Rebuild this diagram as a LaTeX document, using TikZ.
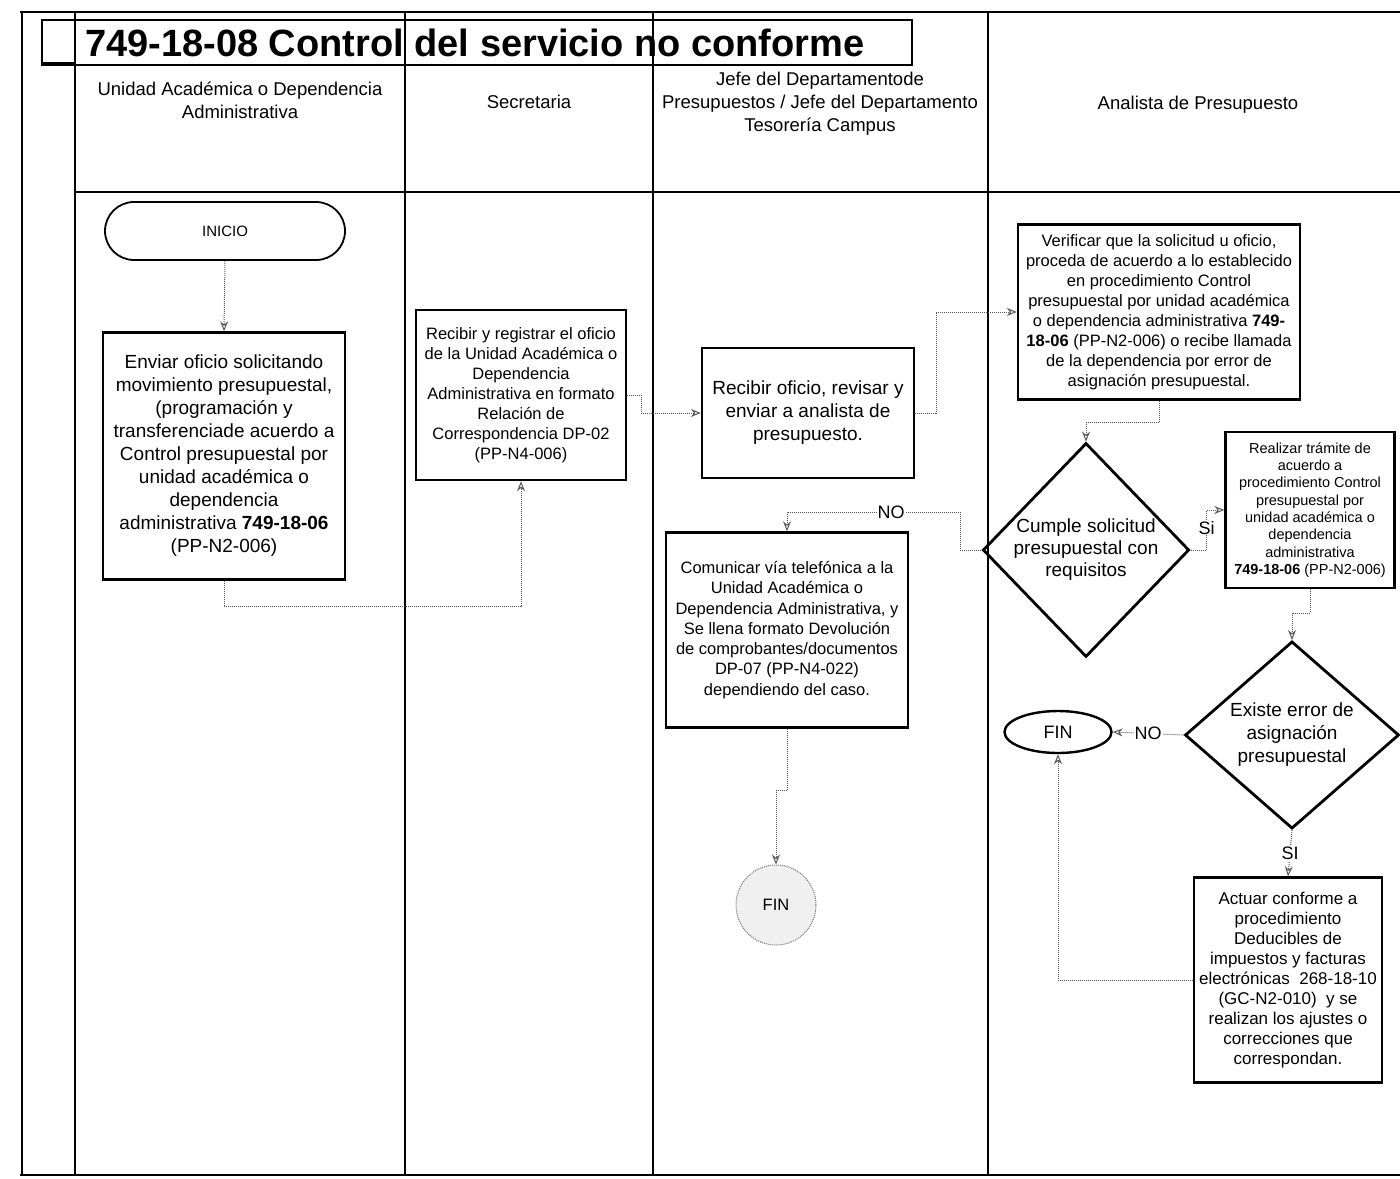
\documentclass[tikz,border=0pt]{standalone}
\usepackage{fontspec}
\setmainfont{Liberation Sans}
\usetikzlibrary{arrows.meta,shapes.geometric}
\newcommand\myfs[2]{\fontsize{#1}{#2}\selectfont}
\begin{document}
\begin{tikzpicture}[x=1pt,y=-1pt,
  lane/.style={line width=2.6pt, black},
  hline/.style={line width=1.8pt, black},
  box/.style={draw, line width=2.4pt, align=center, inner sep=0pt},
  dec/.style={draw, diamond, line width=2.8pt, align=center, inner sep=0pt},
  hdr/.style={align=center, font={\myfs{18.5}{23}}},
  conn/.style={draw=black!65, line width=1pt, densely dotted, -{Stealth[open,length=10pt,width=8pt]}},
  lbl/.style={fill=white, inner sep=1pt, font={\myfs{18}{20}}}
]
\useasboundingbox (0,0) rectangle (1400,1178);
% frame and lanes
\draw[hline] (20,12) -- (1400,12);
\draw[hline] (20,1175) -- (1400,1175);
\draw[lane] (22,12) -- (22,1175);
\draw[lane] (75,12) -- (75,1175);
\draw[lane] (405,12) -- (405,1175);
\draw[lane] (653,12) -- (653,1175);
\draw[lane] (988,12) -- (988,1175);
\draw[hline] (75,192) -- (1400,192);
% title
\draw[line width=2pt] (42,20) rectangle (912,65);
\draw[line width=2pt] (42,20) rectangle (75,63);
\node[font={\bfseries\myfs{38}{40}}, anchor=west, inner sep=0pt] (title) at (85,43) {749-18-08 Control del servicio no conforme};
% headers
\node[hdr] (h1) at (240,100) {Unidad Académica o Dependencia\\Administrativa};
\node[hdr] (h2) at (529,102) {Secretaria};
\node[hdr] (h3) at (820,104) {Jefe del Departamentode\\Presupuestos / Jefe del Departamento\\Tesorería Campus};
\node[hdr] (h4) at (1198,105) {Analista de Presupuesto};
% nodes
\node[draw, line width=1.8pt, rounded corners=29pt, minimum width=240, minimum height=58, font={\myfs{15}{18}}] (ini) at (225,231) {INICIO};
\node[box, minimum width=242, minimum height=247, font={\myfs{19}{23}}] (b1) at (224,456) {Enviar oficio solicitando\\movimiento presupuestal,\\(programación y\\transferenciade acuerdo a\\Control presupuestal por\\unidad académica o\\dependencia\\administrativa \textbf{749-18-06}\\(PP-N2-006)};
\node[box, minimum width=210, minimum height=170, font={\myfs{16.5}{20}}] (b2) at (521,395) {Recibir y registrar el oficio\\de la Unidad Académica o\\Dependencia\\Administrativa en formato\\Relación de\\Correspondencia DP-02\\(PP-N4-006)};
\node[box, minimum width=212, minimum height=130, font={\myfs{19}{23}}] (b3) at (808,413) {Recibir oficio, revisar y\\enviar a analista de\\presupuesto.};
\node[box, minimum width=282, minimum height=175, font={\myfs{16.5}{20}}] (b4) at (1159,312) {Verificar que la solicitud u oficio,\\proceda de acuerdo a lo establecido\\en procedimiento Control\\presupuestal por unidad académica\\o dependencia administrativa \textbf{749-}\\\textbf{18-06} (PP-N2-006) o recibe llamada\\de la dependencia por error de\\asignación presupuestal.};
\node[dec, minimum width=187, minimum height=214, font={\myfs{19}{22}}] (d1) at (1086,550) {Cumple solicitud\\presupuestal con\\requisitos};
\node[box, minimum width=169, minimum height=156, font={\myfs{14.5}{17.3}}] (b5) at (1310,510) {Realizar trámite de\\acuerdo a\\procedimiento Control\\presupuestal por\\unidad académica o\\dependencia\\administrativa\\\textbf{749-18-06} (PP-N2-006)};
\node[dec, minimum width=214, minimum height=174, font={\myfs{19}{23}}] (d2) at (1292,735) {Existe error de\\asignación\\presupuestal};
\node[draw, ellipse, line width=2.4pt, minimum width=107, minimum height=42, inner sep=0pt, font={\myfs{18}{20}}] (fin1) at (1058,732) {FIN};
\node[box, minimum width=188, minimum height=205, font={\myfs{17}{20}}] (b6) at (1288,980) {Actuar conforme a\\procedimiento\\Deducibles de\\impuestos y facturas\\electrónicas~~268-18-10\\(GC-N2-010)~~y se\\realizan los ajustes o\\correcciones que\\correspondan.};
\node[box, minimum width=242, minimum height=195, font={\myfs{16.5}{20.3}}] (b7) at (787,630) {Comunicar vía telefónica a la\\Unidad Académica o\\Dependencia Administrativa, y\\Se llena formato Devolución\\de comprobantes/documentos\\DP-07 (PP-N4-022)\\dependiendo del caso.};
\node[draw=black!55, circle, densely dotted, line width=1pt, fill=black!6, minimum size=80, inner sep=0pt, font={\myfs{16.5}{18}}] (fin2) at (776,905) {FIN};
% connectors
\draw[conn] (ini.south) -- (b1.north);
\draw[conn] (b1.south) -- ++(0,26) -| (b2.south);
\draw[conn] (b2.east) -- ++(14,0) |- (b3.west);
\draw[conn] (b3.east) -- ++(21,0) |- (b4.west);
\draw[conn] (b4.south) -- ++(0,22) -| (d1.north);
\draw[conn] (d1.west) -| ++(-21,-38) -| node[lbl, pos=0.2] {NO} (b7.north);
\draw[conn] (d1.east) -- ++(16,0) |- node[lbl, pos=0.28] {Si} (b5.west);
\draw[conn] (b5.south) -- ++(0,24) -| (d2.north);
\draw[conn] (d2.west) -- node[lbl] {NO} (fin1.east);
\draw[conn] (d2.south) -- node[lbl] {SI} (b6.north);
\draw[conn] (b6.west) -| (fin1.south);
\draw[conn] (b7.south) -- ++(0,62) -| (fin2.north);
\end{tikzpicture}
\end{document}
